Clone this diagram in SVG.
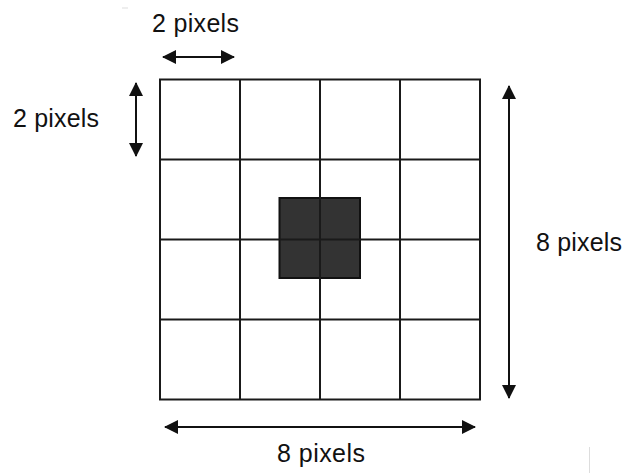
<svg xmlns="http://www.w3.org/2000/svg" width="626" height="473" viewBox="0 0 626 473">
<style>
.grid{fill:none;stroke:#1a1a1a;stroke-width:2}
.dim{stroke:#111;stroke-width:2}
.lbl{font-family:"Liberation Sans",Arial,sans-serif;font-size:25px;fill:#111}
</style>
<defs>
<marker id="ah" viewBox="0 0 14 14" refX="13" refY="7" markerWidth="14" markerHeight="14" markerUnits="userSpaceOnUse" orient="auto-start-reverse">
<path d="M0,0 L14,7 L0,14 Z" fill="#111"/>
</marker>
</defs>
<rect width="626" height="473" fill="#fff"/>
<g id="dark-square"><rect x="279.5" y="198" width="80.5" height="80" fill="#333" stroke="#111" stroke-width="2"/></g>
<g id="grid">
<rect class="grid" x="160" y="79.5" width="320" height="320"/>
<path class="grid" d="M240,79.5V399.5M320,79.5V399.5M400,79.5V399.5M160,159.5H480M160,239.5H480M160,319.5H480"/>
</g>
<g id="connectors">
<line class="dim" x1="163" y1="57" x2="234" y2="57" marker-start="url(#ah)" marker-end="url(#ah)"/>
<line class="dim" x1="136" y1="83" x2="136" y2="156" marker-start="url(#ah)" marker-end="url(#ah)"/>
<line class="dim" x1="509" y1="86" x2="509" y2="398" marker-start="url(#ah)" marker-end="url(#ah)"/>
<line class="dim" x1="165" y1="427" x2="475" y2="427" marker-start="url(#ah)" marker-end="url(#ah)"/>
</g>
<g id="labels">
<text class="lbl" x="152" y="32" textLength="87">2 pixels</text>
<text class="lbl" x="13" y="127" textLength="86">2 pixels</text>
<text class="lbl" x="536" y="251" textLength="86">8 pixels</text>
<text class="lbl" x="277" y="462" textLength="88">8 pixels</text>
</g>
<g id="artifacts">
<line x1="122" y1="8" x2="128" y2="8" stroke="#ddd" stroke-width="1"/>
<line x1="589.5" y1="447" x2="589.5" y2="473" stroke="#ddd" stroke-width="1"/>
</g>
</svg>
